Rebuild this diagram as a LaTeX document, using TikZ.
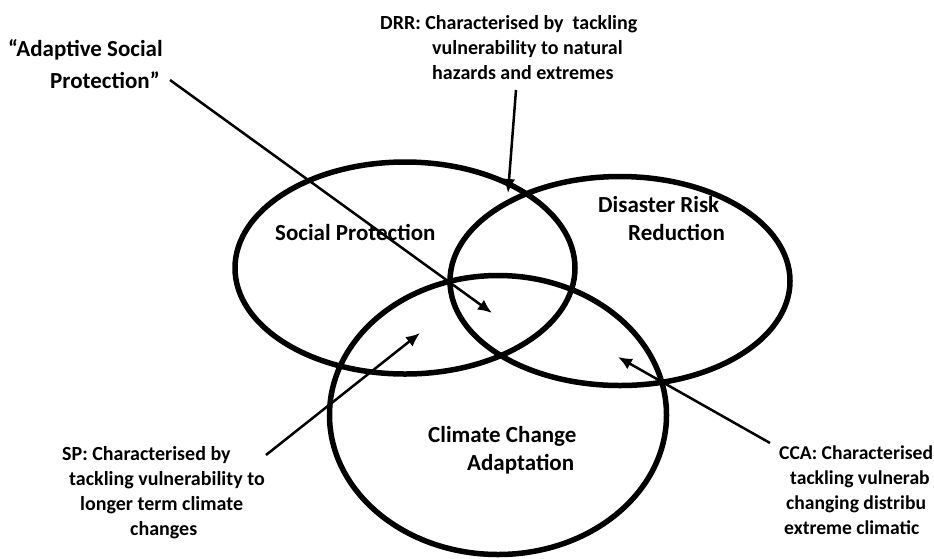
\documentclass[tikz,border=0pt]{standalone}
\usepackage{fontspec}
\setmainfont{Carlito}
\usetikzlibrary{arrows.meta,shapes.geometric}
\begin{document}
\begin{tikzpicture}[x=1pt,y=-1pt,
  venn/.style={draw=black, line width=5.5pt, ellipse, inner sep=0pt},
  lbl/.style={font=\fontsize{20}{25}\selectfont\bfseries, inner sep=0pt, align=left, anchor=north west},
  biglbl/.style={lbl, font=\fontsize{23}{28}\selectfont\bfseries},
  asplbl/.style={lbl, font=\fontsize{23}{32}\selectfont\bfseries},
  ptr/.style={line width=2.5pt, -{Latex[length=14pt,width=12pt]}}
]
\useasboundingbox[fill=white] (0,0) rectangle (934,558);
% circles
\node[venn, minimum width=340pt, minimum height=212pt] (sp) at (405,268) {};
\node[venn, minimum width=340pt, minimum height=209pt] (drr) at (620,281) {};
\node[venn, minimum width=337pt, minimum height=279pt] (cca) at (498,415) {};
% circle labels
\node[biglbl] (spl) at (275,224) {Social Protection};
\node[biglbl] (drrl) at (598,196) {Disaster Risk\\\hspace*{30pt}Reduction};
\node[biglbl] (ccal) at (428,426) {Climate Change\\\hspace*{39pt}Adaptation};
% annotations
\node[asplbl] (asp) at (8,39) {“Adaptive Social\\\hspace*{42pt}Protection”};
\node[lbl] (drrt) at (380,15) {DRR: Characterised by \ tackling\\\hspace*{52pt}vulnerability to natural\\\hspace*{52pt}hazards and extremes};
\node[lbl] (spt) at (62,446) {SP: Characterised by\\\hspace*{7pt}tackling vulnerability to\\\hspace*{18pt}longer term climate\\\hspace*{68pt}changes};
\node[lbl, font=\fontsize{19.6}{25}\selectfont\bfseries] (ccat) at (779,446) {CCA: Characterised\\\hspace*{11pt}tackling vulnerab\\\hspace*{7pt}changing distribu\\\hspace*{5pt}extreme climatic};
% arrow end points
\coordinate (aspS) at (170,80);
\coordinate (aspE) at (492,313);
\coordinate (drrS) at (516,90);
\coordinate (drrE) at (508,193);
\coordinate (spS) at (266,455);
\coordinate (spE) at (420,333);
\coordinate (ccaS) at (770,443);
\coordinate (ccaE) at (618,357);
\draw[ptr] (aspS) -- (aspE);
\draw[ptr] (drrS) -- (drrE);
\draw[ptr] (spS) -- (spE);
\draw[ptr] (ccaS) -- (ccaE);
\end{tikzpicture}
\end{document}
